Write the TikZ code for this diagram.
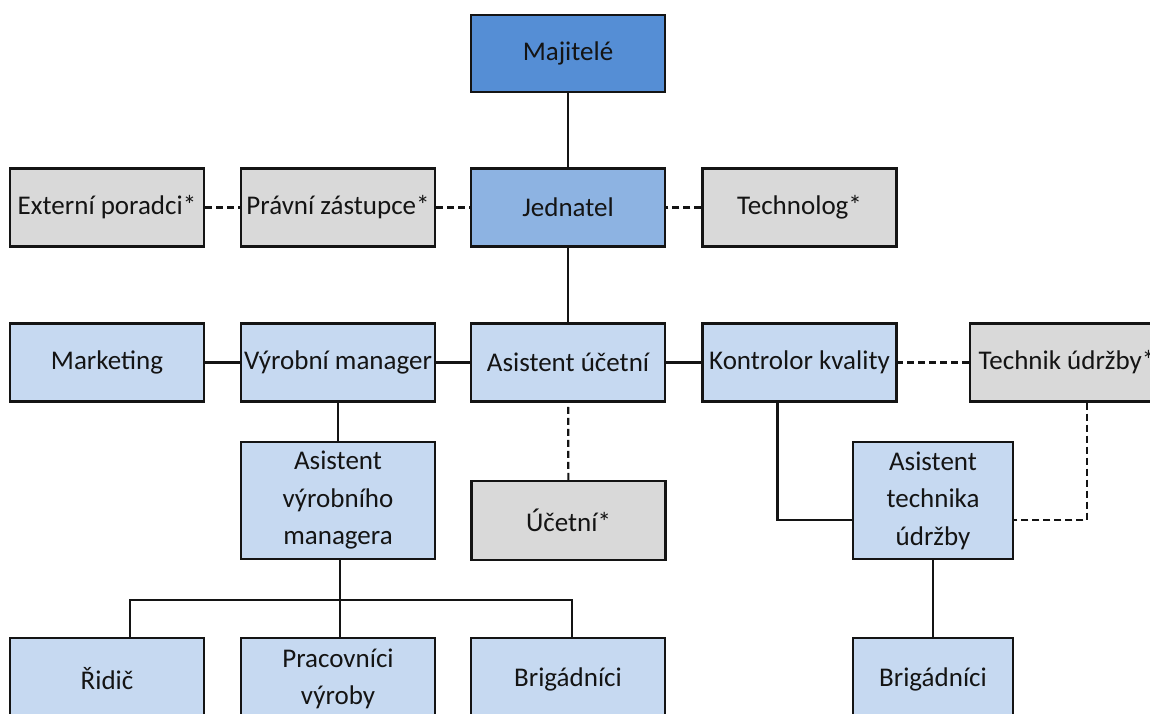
\documentclass[tikz,border=0pt]{standalone}
\usepackage{fontspec}
\setmainfont{Carlito}
\definecolor{topblue}{HTML}{558ED5}
\definecolor{midblue}{HTML}{8DB3E2}
\definecolor{lightblue}{HTML}{C6D9F1}
\definecolor{lightgray}{HTML}{D9D9D9}
\definecolor{ink}{HTML}{141414}
\begin{document}
\begin{tikzpicture}
        [x=1pt,y=-1pt,
        box/.style={rectangle,draw=ink,line width=2.2pt,fill=lightblue,
            minimum width=194pt,minimum height=78pt,inner sep=2pt,
            align=center,text=ink,font=\fontsize{27}{37.5}\selectfont},
        ext/.style={box,fill=lightgray},
        tall/.style={minimum height=117pt},
        narrow/.style={minimum width=160pt},
        line/.style={line width=2.2pt,draw=ink},
        dline/.style={line,dash pattern=on 7pt off 4pt}]
        \clip (0,0) rectangle (1150,713);
        \useasboundingbox (0,0) rectangle (1150,713);
        \fill[white] (0,0) rectangle (1150,713);
        % top
        \node[box,fill=topblue,minimum height=77pt] (own) at (568,53.5) {Majitelé};
        \node[box,fill=midblue] (jed) at (568,207.5) {Jednatel}
            edge[line] (own);
        \node[ext] (prav) at (338,207.5) {Právní zástupce*}
            edge[dline] (jed);
        \node[ext] (extp) at (107,207.5) {Externí poradci*}
            edge[dline] (prav);
        \node[ext] (tech) at (799.5,207.5) {Technolog*}
            edge[dline] (jed);
        % middle row
        \node[box] (asu) at (568,362.5) {Asistent účetní}
            edge[line] (jed);
        \node[box] (vyr) at (338,362.5) {Výrobní manager}
            edge[line] (asu);
        \node[box] (mark) at (107,362.5) {Marketing}
            edge[line] (vyr);
        \node[box] (kon) at (799.5,362.5) {Kontrolor kvality}
            edge[line] (asu);
        \node[ext] (tud) at (1067,362.5) {Technik údržby*}
            edge[dline] (kon);
        % lower row
        \node[box,tall] (avm) at (338,500.5) {Asistent\\výrobního\\managera}
            edge[line] (vyr);
        \node[ext,minimum height=79pt] (uce) at (568.5,520.5) {Účetní*}
            edge[dline] (asu);
        \node[box,tall,narrow] (atu) at (933,500.5) {Asistent\\technika\\údržby};
        \draw[line] ([xshift=-22pt]kon.south) |- ([yshift=-19.5pt]atu.west);
        \draw[dline] ([xshift=20pt]tud.south) |- ([yshift=-19.5pt]atu.east);
        % bottom row
        \node[box,minimum height=82pt] (rid) at (107,679) {Řidič};
        \node[box,minimum height=82pt] (prac) at (338,679) {Pracovníci\\výroby};
        \node[box,minimum height=82pt] (brig) at (568,679) {Brigádníci};
        \node[box,narrow,minimum height=82pt] (brig2) at (933,679) {Brigádníci}
            edge[line] (atu);
        \coordinate (bus) at (340,600);
        \draw[line] ([xshift=2pt]avm.south) -- ([xshift=2pt]prac.north);
        \draw[line] ([xshift=23pt]rid.north) |- (bus) -| ([xshift=4pt]brig.north);
    \end{tikzpicture}
\end{document}
